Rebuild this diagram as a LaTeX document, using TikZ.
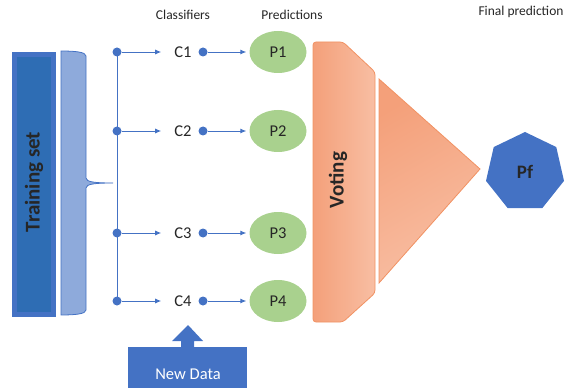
\documentclass[tikz,border=0pt]{standalone}
\usepackage{fontspec}
\setmainfont{Carlito}
\usetikzlibrary{shapes.geometric,arrows.meta}
\definecolor{bl}{HTML}{4472C4}
\definecolor{blin}{HTML}{2E6DB4}
\definecolor{blight}{HTML}{8EAADB}
\definecolor{grn}{HTML}{A9D18E}
\definecolor{orl}{HTML}{F4A07A}
\definecolor{orr}{HTML}{F8BEA3}
\definecolor{ord}{HTML}{F19263}
\definecolor{txt}{HTML}{262626}
\tikzset{
  dot/.style={circle,fill=bl,inner sep=0pt,minimum size=9pt},
  conn/.style={draw=bl,line width=0.9pt,-{Latex[length=6pt,width=5pt]}},
  clab/.style={font=\fontsize{16.5}{16.5}\selectfont,text=txt,inner sep=0pt},
  pnode/.style={ellipse,fill=grn,minimum width=57pt,minimum height=42pt,inner sep=0pt,font=\fontsize{16.5}{16.5}\selectfont,text=txt},
  head/.style={font=\fontsize{13.5}{13.5}\selectfont,text=txt,inner sep=0pt},
}
\begin{document}
\begin{tikzpicture}[x=1pt,y=-1pt]
\useasboundingbox (0,0) rectangle (567,390);
% headers
\node[head] (hc) at (183,15) {Classifiers};
\node[head] (hp) at (292,15) {Predictions};
\node[head] (hf) at (521,12) {Final prediction};
% training set
\path[fill=bl] (12,52) rectangle (56,317);
\path[fill=blin] (17,57) rectangle (51,312);
\node[rotate=90,font=\bfseries\fontsize{21}{21}\selectfont,text=txt] (ts) at (34,182) {Training set};
% brace
\path[fill=blight,draw=bl,line width=0.8pt] (61,51) .. controls (75,51) and (86,52) .. (86,56) -- (86,178) .. controls (86,182) and (95,183) .. (113,183) .. controls (95,183) and (86,184) .. (86,188) -- (86,310) .. controls (86,314) and (75,315) .. (61,315) -- cycle;
% dots on vertical line
\node[dot] (d1) at (117,52) {};
\node[dot] (d2) at (117,131) {};
\node[dot] (d3) at (117,233) {};
\node[dot] (d4) at (117,301) {};
\draw[bl,line width=0.9pt] (d1.center) -- (d4.center);
% classifiers
\foreach \i/\y in {1/52,2/131,3/233,4/301}{
  \node[clab] (c\i) at (183,\y) {C\i};
  \node[dot] (cd\i) at (203,\y) {};
  \node[pnode] (p\i) at (278,\y) {P\i};
  \draw[conn,shorten >=13pt] (d\i) -- (c\i);
  \draw[conn,shorten >=3pt] (cd\i) -- (p\i);
}
% voting
\path[draw=ord,line width=0.8pt,left color=orl,right color=orr,rounded corners=3pt] (313,42) -- (343,42) -- (375,72) -- (375,293) -- (343,322) -- (313,322) -- cycle;
\node[rotate=90,font=\bfseries\fontsize{21}{21}\selectfont,text=txt] (vot) at (338,180) {Voting};
% triangle
\path[draw=ord,line width=0.8pt,top color=orl,bottom color=orr,shading angle=30] (379,79) -- (480,169) -- (379,283) -- cycle;
% final
\node[regular polygon,regular polygon sides=7,fill=bl,minimum size=80pt,inner sep=0pt,font=\bfseries\fontsize{19}{19}\selectfont,text=txt] (pf) at (525,172) {Pf};
% new data
\path[fill=bl] (128,347) rectangle (247,388);
\path[fill=bl] (181,348) -- (181,341) -- (172,341) -- (188,325) -- (203,341) -- (194,341) -- (194,348) -- cycle;
\node[font=\fontsize{16.5}{16.5}\selectfont,text=white] (nd) at (188,374) {New Data};
\end{tikzpicture}
\end{document}
